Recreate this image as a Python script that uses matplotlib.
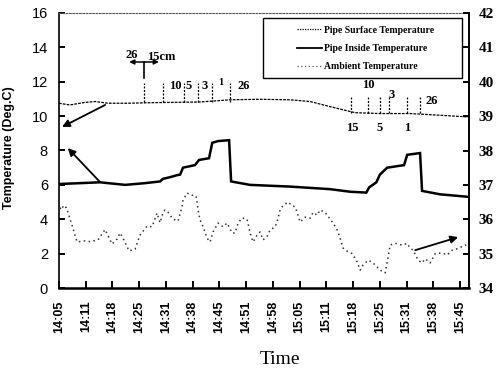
import matplotlib
matplotlib.use("Agg")
import matplotlib.pyplot as plt
from matplotlib.lines import Line2D
from matplotlib.patches import Rectangle
import numpy as np

# ---- data (time in minutes after 14:05) ----
tick_labels = ["14:05", "14:11", "14:18", "14:25", "14:31", "14:38", "14:45", "14:51",
               "14:58", "15:05", "15:11", "15:18", "15:25", "15:31", "15:38", "15:45"]
tick_minutes = [0, 6.67, 13.33, 20, 26.67, 33.33, 40, 46.67,
                53.33, 60, 66.67, 73.33, 80, 86.67, 93.33, 100]

surface_t = [0, 2.7, 6.5, 9, 12.2, 17, 22.7, 28, 35, 42.6, 50, 57.6, 62.6, 67.6,
             73.8, 80, 87.5, 95, 102.2]
surface_v = [10.75, 10.65, 10.8, 10.85, 10.75, 10.75, 10.78, 10.8, 10.82, 10.95,
             10.98, 10.95, 10.85, 10.55, 10.2, 10.15, 10.15, 10.05, 9.95]

inside_t = [0, 5.2, 10.2, 16.5, 21.4, 25.2, 25.9, 27.7, 29.2, 30.2, 30.9, 33.9, 34.9,
            37.4, 38.2, 39.7, 42.4, 42.9, 47.6, 57.6, 67.6, 72.6, 76.6, 77.3, 79.1,
            80.0, 81.8, 86.0, 86.8, 90.0, 90.5, 95.0, 102.2]
inside_v = [6.05, 6.1, 6.15, 6.0, 6.1, 6.2, 6.35, 6.45, 6.55, 6.6, 7.0, 7.15, 7.45,
            7.55, 8.45, 8.55, 8.6, 6.2, 6.0, 5.9, 5.75, 5.6, 5.55, 5.85, 6.15,
            6.6, 7.0, 7.15, 7.75, 7.85, 5.65, 5.45, 5.3]

ambient_t = [0.25, 0.75, 1.25, 1.75, 2.24, 3.24, 4.49, 6.48, 7.73, 9.73, 11.47, 12.72,
             13.22, 14.46, 15.21, 15.96, 17.46, 18.95, 20.2, 21.95, 23.19, 24.44,
             25.19, 25.94, 26.43, 27.18, 28.43, 29.68, 30.67, 30.92, 31.92, 33.17,
             34.16, 34.41, 34.66, 35.16, 35.91, 36.91, 37.66, 38.4, 39.65, 40.9,
             41.9, 43.14, 43.89, 44.64, 45.64, 46.88, 47.63, 48.38, 49.38, 50.12,
             50.87, 51.87, 52.62, 53.87, 54.36, 55.11, 55.86, 57.11, 58.1, 58.85,
             59.35, 60.1, 61.35, 62.59, 63.34, 64.34, 65.09, 66.33, 68.33, 69.33,
             70.07, 70.82, 72.07, 73.07, 74.31, 75.06, 75.81, 77.06, 78.05, 78.8,
             80.05, 81.3, 82.04, 82.54, 83.79, 85.54, 86.78, 87.53, 88.28, 89.53,
             90.52, 91.27, 92.52, 93.77, 95.51, 96.76, 98.0, 99.5, 101.25, 102.0]
ambient_v = [36.3, 36.4, 36.3, 36.35, 36.2, 35.83, 35.34, 35.37, 35.35, 35.4, 35.7, 35.4,
             35.28, 35.42, 35.6, 35.45, 35.08, 35.13, 35.54, 35.8, 35.78, 36.18,
             35.9, 36.2, 36.27, 36.2, 36.0, 35.95, 36.36, 36.56, 36.76, 36.7,
             36.68, 36.5, 36.27, 35.98, 35.78, 35.45, 35.34, 35.63, 35.89, 35.78,
             35.89, 35.6, 35.6, 35.89, 36.04, 36.0, 35.6, 35.34, 35.54, 35.63,
             35.4, 35.5, 35.69, 35.78, 35.92, 36.27, 36.4, 36.5, 36.4, 36.36,
             36.2, 35.92, 36.06, 36.03, 36.2, 36.12, 36.27, 36.2, 35.89, 35.69,
             35.45, 35.16, 35.05, 35.0, 34.76, 34.52, 34.67, 34.81, 34.75, 34.67,
             34.52, 34.44, 34.9, 35.25, 35.3, 35.25, 35.3, 35.16, 35.1, 34.81,
             34.73, 34.85, 34.73, 35.0, 35.02, 34.96, 35.1, 35.15, 35.25, 35.2]

# probe positions marked above the surface curve
probe_left_t = [21.2, 25.9, 31.2, 34.7, 38.2, 42.6]
probe_left_labels = [("10", 28.9, 11.75), ("5", 32.4, 11.75), ("3", 36.2, 11.75),
                     ("26", 46.1, 11.75)]
probe_right_t = [72.8, 77.1, 80.0, 82.3, 86.8, 90.0]
probe_right_labels = [("10", 77.1, 11.8), ("3", 82.8, 11.2), ("26", 93.0, 10.9),
                      ("15", 73.1, 9.3), ("5", 80.0, 9.3), ("1", 86.8, 9.3)]

SERIF = ["Liberation Serif", "DejaVu Serif"]
SANS = ["Liberation Sans", "DejaVu Sans"]

fig = plt.figure(figsize=(4.97, 3.74), dpi=100)
ax = fig.add_axes([59 / 497, 86 / 374, 410 / 497, 275 / 374])
ax2 = ax.twinx()

# pipe inside (left axis) and pipe surface (left axis)
ax.plot(surface_t, surface_v, color="black", lw=0.9, linestyle=(0, (2.2, 0.9)))
ax.plot(inside_t, inside_v, color="black", lw=1.8, solid_joinstyle="miter")
# ambient on the right axis
ax2.plot(ambient_t, ambient_v, color="#333333", lw=1.1, linestyle=(0, (1, 2.2)))

ax.set_xlim(0, 102.2)
ax.set_ylim(0, 16)
ax2.set_ylim(34, 42)
ax.set_yticks(np.arange(0, 17, 2))
ax2.set_yticks(np.arange(34, 43, 1))
ax.set_xticks(tick_minutes)
ax.set_xticklabels(tick_labels, rotation=90, family=SANS, fontweight="bold", fontsize=9)
for lab in ax.get_yticklabels():
    lab.set_family(SANS)
    lab.set_fontsize(10.5)
for lab in ax2.get_yticklabels():
    lab.set_family(SERIF)
    lab.set_fontweight("bold")
    lab.set_fontsize(11)

ax.tick_params(axis="y", direction="in", length=4, width=1.4, pad=8)
ax.tick_params(axis="x", direction="in", length=5, width=1.4, pad=9)
ax2.tick_params(axis="y", direction="in", length=4, width=1.4, pad=7)

for side in ("left", "right"):
    ax.spines[side].set_linewidth(1.2)
ax.spines["bottom"].set_linewidth(1.8)
ax.spines["top"].set_linewidth(0.8)
ax.spines["top"].set_linestyle((0, (1.5, 1.5)))
ax.spines["top"].set_color("#555555")
for side in ("left", "top", "bottom"):
    ax2.spines[side].set_visible(False)
ax2.spines["right"].set_linewidth(1.2)

ax.set_ylabel("Temperature (Deg.C)", family=SANS, fontweight="bold", fontsize=9)
ax.yaxis.set_label_coords(-0.107, 0.51)
fig.text(280 / 497, 1 - 360 / 374, "Time", family=SERIF, fontsize=14,
         ha="center", va="center")

# arrows pointing each curve to its axis
arrow = dict(arrowstyle="-|>", lw=1.3, color="black", mutation_scale=11,
             shrinkA=0, shrinkB=0)
ax.annotate("", xy=(0.75, 9.37), xytext=(11.5, 10.65), arrowprops=arrow)
ax.annotate("", xy=(2.2, 8.14), xytext=(10.2, 6.17), arrowprops=arrow)
ax2.annotate("", xy=(99.5, 35.48), xytext=(88.8, 35.1), arrowprops=arrow)

# probe position markers
dash = (0, (1.6, 1.2))
for t in probe_left_t:
    ax.plot([t, t], [10.8, 11.9], color="black", lw=0.9, linestyle=dash)
for t in probe_right_t:
    ax.plot([t, t], [10.2, 11.1], color="black", lw=0.9, linestyle=dash)
ax.plot([21.2, 21.2], [12.2, 13.15], color="black", lw=1.2)
ax.annotate("", xy=(17.5, 13.15), xytext=(24.9, 13.15),
            arrowprops=dict(arrowstyle="<|-|>", lw=1.1, color="black",
                            mutation_scale=7, shrinkA=0, shrinkB=0))
ax.text(18.0, 13.55, "26", family=SERIF, fontweight="bold", fontsize=9,
        ha="center", va="center")
ax.text(25.5, 13.45, "15cm", family=SERIF, fontweight="bold", fontsize=9,
        ha="center", va="center")
for s, t, v in probe_left_labels:
    ax.text(t, v, s, family=SERIF, fontweight="bold", fontsize=9, ha="center", va="center")
ax.text(40.4, 11.95, "1", family=SERIF, fontweight="bold", fontsize=7.5,
        ha="center", va="center")
for s, t, v in probe_right_labels:
    ax.text(t, v, s, family=SERIF, fontweight="bold", fontsize=9, ha="center", va="center")

# legend
handles = [Line2D([], [], color="black", lw=0.9, linestyle=(0, (1, 1))),
           Line2D([], [], color="black", lw=1.3),
           Line2D([], [], color="#555555", lw=0.9, linestyle=(0, (1, 2)))]
labels = ["Pipe Surface Temperature", "Pipe Inside Temperature", "Ambient Temperature"]
leg = ax2.legend(handles, labels, loc="upper left",
                 bbox_to_anchor=((290 - 59) / 410, (288 - 19) / 275),
                 frameon=False, handlelength=2.6, handletextpad=0.2,
                 labelspacing=0.95, borderpad=0.2,
                 prop={"family": SERIF, "weight": "bold", "size": 7})
ax2.add_patch(Rectangle(((263 - 59) / 410, (288 - 78) / 275), (462 - 263) / 410,
                        60 / 275, transform=ax2.transAxes, fill=False,
                        edgecolor="black", lw=1.0, zorder=5))

fig.savefig("out.png", dpi=100)
